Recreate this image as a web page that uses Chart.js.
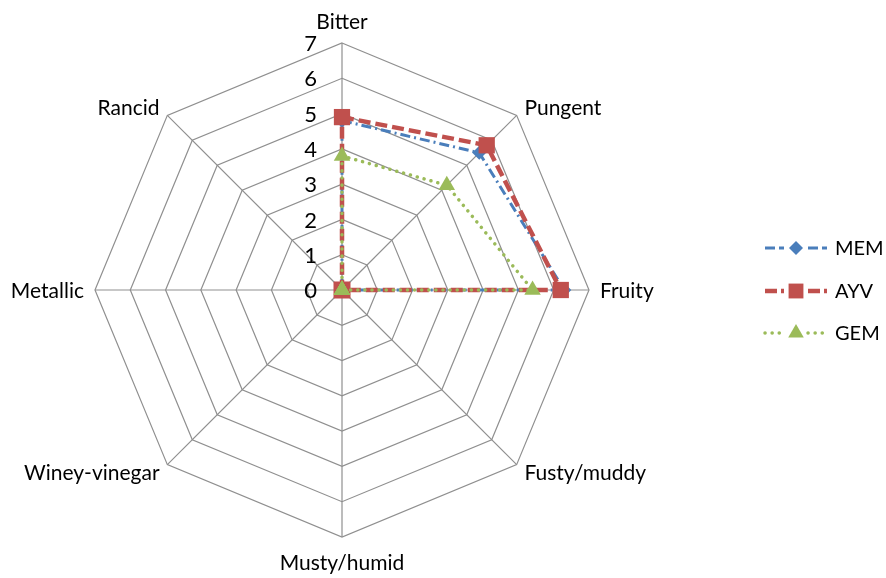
<!DOCTYPE html>
<html>
<head>
<meta charset="utf-8">
<script src="https://cdn.jsdelivr.net/npm/chart.js@4.4.1/dist/chart.umd.min.js"></script>
<style>
  html, body { margin: 0; padding: 0; background: #fff; }
  #wrap { width: 886px; height: 578px; position: relative; }
</style>
</head>
<body>
<div id="wrap"><canvas id="c" width="886" height="578"></canvas></div>
<script>
const categories = ['Bitter', 'Pungent', 'Fruity', 'Fusty/muddy', 'Musty/humid', 'Winey-vinegar', 'Metallic', 'Rancid'];
const memValues = [4.8, 5.5, 6.3, 0, 0, 0, 0, 0];
const ayvValues = [4.9, 5.8, 6.2, 0, 0, 0, 0, 0];
const gemValues = [3.8, 4.2, 5.4, 0, 0, 0, 0, 0];
const tickValues = [0, 1, 2, 3, 4, 5, 6, 7];

const FONT = 'Lato, "Open Sans", sans-serif';
const LABEL_SIZE = 21;
const TICK_SIZE = 22;

const pointLabelPlugin = {
  id: 'customLabels',
  afterDraw(chart) {
    const scale = chart.scales.r;
    const ctx = chart.ctx;
    ctx.save();
    ctx.fillStyle = '#000';
    ctx.font = LABEL_SIZE + 'px ' + FONT;
    const r = scale.drawingArea;
    categories.forEach((lab, i) => {
      const p = scale.getPointPosition(i, r + 11);
      const dx = p.x - scale.xCenter;
      const dy = p.y - scale.yCenter;
      let x = p.x, y = p.y;
      ctx.textBaseline = 'middle';
      if (Math.abs(dx) < 1) {
        ctx.textAlign = 'center';
        y += dy < 0 ? -11 : 14;
      } else if (dx > 0) {
        ctx.textAlign = 'left';
      } else {
        ctx.textAlign = 'right';
      }
      ctx.fillText(lab, x, y + 1);
    });
    ctx.font = TICK_SIZE + 'px ' + FONT;
    ctx.textAlign = 'right';
    ctx.textBaseline = 'middle';
    tickValues.forEach(v => {
      const d = scale.getDistanceFromCenterForValue(v);
      ctx.fillText(String(v), scale.xCenter - 25, scale.yCenter - d + 1);
    });
    ctx.restore();
  }
};

function drawMarker(ctx, style, x, y, rad, color) {
  ctx.save();
  ctx.fillStyle = color;
  ctx.beginPath();
  if (style === 'rect') {
    const s = rad * Math.SQRT1_2;
    ctx.rect(x - s, y - s, 2 * s, 2 * s);
  } else if (style === 'rectRot') {
    ctx.moveTo(x, y - rad); ctx.lineTo(x + rad, y); ctx.lineTo(x, y + rad); ctx.lineTo(x - rad, y); ctx.closePath();
  } else if (style === 'triangle') {
    ctx.moveTo(x, y - rad);
    ctx.lineTo(x + rad * Math.sin(2 * Math.PI / 3), y - rad * Math.cos(2 * Math.PI / 3));
    ctx.lineTo(x + rad * Math.sin(4 * Math.PI / 3), y - rad * Math.cos(4 * Math.PI / 3));
    ctx.closePath();
  }
  ctx.fill();
  ctx.restore();
}

const legendPlugin = {
  id: 'customLegend',
  afterDraw(chart) {
    const ctx = chart.ctx;
    const ys = [248, 291, 333];
    ctx.save();
    chart.data.datasets.forEach((ds, k) => {
      const y = ys[k];
      ctx.save();
      ctx.strokeStyle = ds.borderColor;
      ctx.lineWidth = ds.borderWidth;
      ctx.lineCap = ds.borderCapStyle || 'butt';
      ctx.setLineDash(ds.legendDash);
      ctx.beginPath(); ctx.moveTo(765, y); ctx.lineTo(784, y); ctx.stroke();
      ctx.beginPath(); ctx.moveTo(808, y); ctx.lineTo(827, y); ctx.stroke();
      ctx.restore();
      drawMarker(ctx, ds.pointStyle, 796, y, ds.legendRadius, ds.pointBackgroundColor);
      ctx.fillStyle = '#000';
      ctx.font = '20px ' + FONT;
      ctx.textAlign = 'left';
      ctx.textBaseline = 'middle';
      ctx.fillText(ds.label, 835, y + 1);
    });
    ctx.restore();
  }
};

new Chart(document.getElementById('c'), {
  type: 'radar',
  data: {
    labels: categories,
    datasets: [
      {
        label: 'MEM', data: memValues, order: 3,
        borderColor: '#4a7ebb', backgroundColor: 'transparent', fill: false,
        borderWidth: 3, borderDash: [10, 4, 2, 4],
        pointStyle: 'rectRot', pointRadius: 7, pointBackgroundColor: '#4a7ebb', pointBorderWidth: 0,
        legendDash: [10, 4], legendRadius: 7
      },
      {
        label: 'AYV', data: ayvValues, order: 2,
        borderColor: '#c0504d', backgroundColor: 'transparent', fill: false,
        borderWidth: 4.5, borderDash: [12, 5],
        pointStyle: 'rect', pointRadius: 11.5, pointBackgroundColor: '#c0504d', pointBorderWidth: 0,
        legendDash: [12, 4], legendRadius: 10.5
      },
      {
        label: 'GEM', data: gemValues, order: 1,
        borderColor: '#9bbb59', backgroundColor: 'transparent', fill: false,
        borderWidth: 3.5, borderDash: [0.1, 7], borderCapStyle: 'round',
        pointStyle: 'triangle', pointRadius: 9.5, pointBackgroundColor: '#9bbb59', pointBorderWidth: 0,
        legendDash: [0.1, 7], legendRadius: 9
      }
    ]
  },
  options: {
    responsive: false,
    animation: false,
    layout: { padding: { left: 0, right: 202, top: 43, bottom: 41 } },
    plugins: { legend: { display: false }, tooltip: { enabled: false } },
    elements: { line: { tension: 0 } },
    scales: {
      r: {
        min: 0, max: 7,
        ticks: { stepSize: 1, display: false },
        grid: { color: '#8f8f8f', lineWidth: 1.2, circular: false },
        angleLines: { color: '#8f8f8f', lineWidth: 1.2 },
        pointLabels: { display: false }
      }
    }
  },
  plugins: [pointLabelPlugin, legendPlugin]
});
</script>
</body>
</html>
